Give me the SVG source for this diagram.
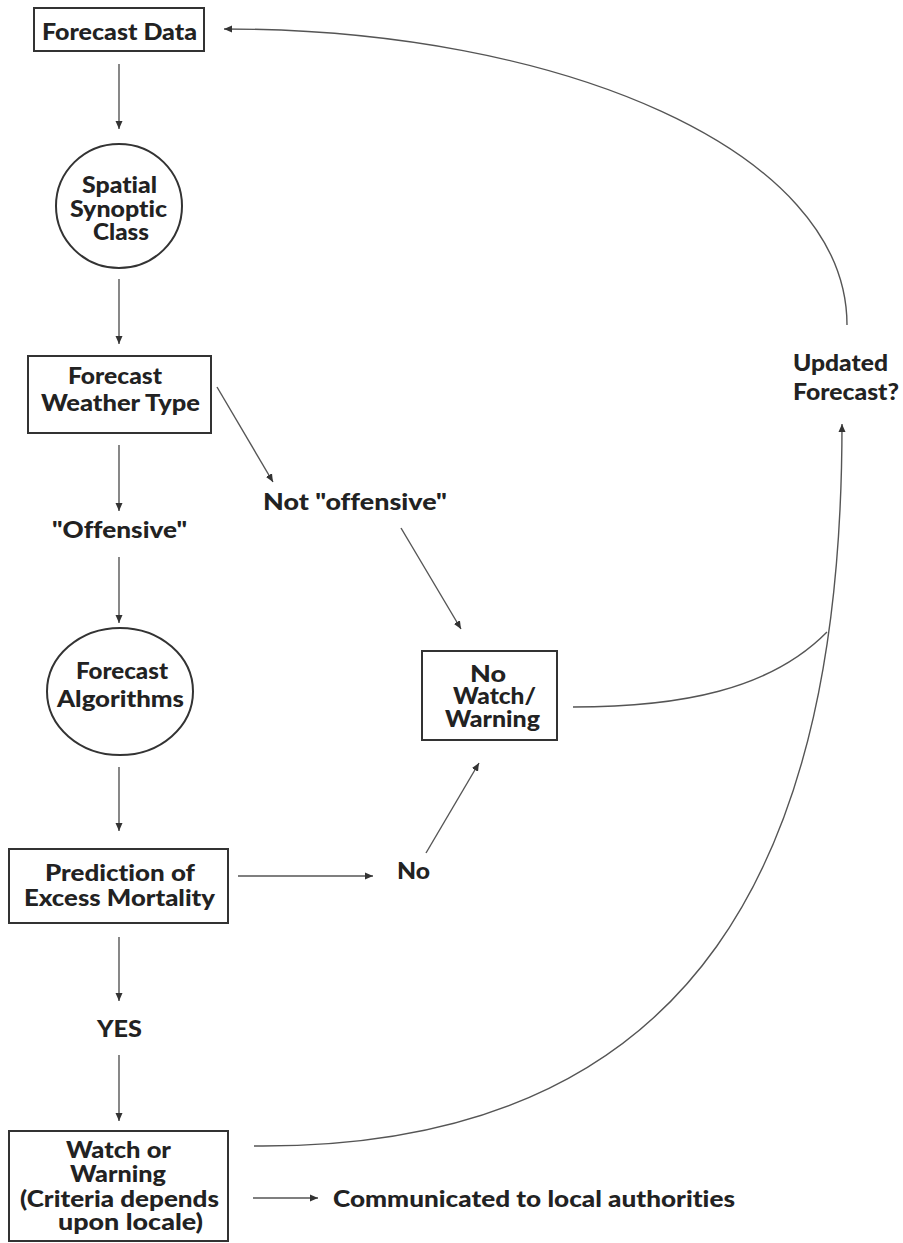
<svg xmlns="http://www.w3.org/2000/svg" width="903" height="1243" viewBox="0 0 903 1243">
<style>
.box{fill:#fff;stroke:#333;stroke-width:2}
.t{font-family:Lato,"Open Sans","Liberation Sans",sans-serif;font-weight:900;font-size:23px;fill:#222;text-anchor:middle;font-variant-ligatures:none}
.ts{text-anchor:start}
.c{fill:none;stroke:#555;stroke-width:1.4}
</style>
<defs>
<marker id="ah" markerUnits="userSpaceOnUse" markerWidth="9" markerHeight="8" refX="8" refY="4" orient="auto">
<path d="M0,0.5 L8,4 L0,7.5 z" fill="#333"/>
</marker>
</defs>
<rect width="903" height="1243" fill="#fff"/>
<g id="connectors">
<line class="c" x1="119" y1="64" x2="119" y2="129" marker-end="url(#ah)"/>
<line class="c" x1="119" y1="279" x2="119" y2="344" marker-end="url(#ah)"/>
<line class="c" x1="119" y1="445" x2="119" y2="511" marker-end="url(#ah)"/>
<line class="c" x1="119" y1="557" x2="119" y2="623" marker-end="url(#ah)"/>
<line class="c" x1="119" y1="767" x2="119" y2="831" marker-end="url(#ah)"/>
<line class="c" x1="119" y1="937" x2="119" y2="1001" marker-end="url(#ah)"/>
<line class="c" x1="119" y1="1055" x2="119" y2="1121" marker-end="url(#ah)"/>
<line class="c" x1="217" y1="387" x2="273" y2="482" marker-end="url(#ah)"/>
<line class="c" x1="401" y1="528" x2="461" y2="629" marker-end="url(#ah)"/>
<line class="c" x1="238" y1="876" x2="373" y2="876" marker-end="url(#ah)"/>
<line class="c" x1="426" y1="853" x2="479" y2="763" marker-end="url(#ah)"/>
<line class="c" x1="253" y1="1198" x2="318" y2="1198" marker-end="url(#ah)"/>
<path class="c" d="M573,707 C680,707 770,690 827,632"/>
<path class="c" d="M254,1146 C704,1150 842,850 842,424" marker-end="url(#ah)"/>
<path class="c" d="M847,325 C847,150 560,29 224,29" marker-end="url(#ah)"/>
</g>
<g id="forecast-data">
<rect class="box" x="34" y="8" width="170" height="43"/>
<text class="t" x="119.5" y="40" textLength="155" lengthAdjust="spacingAndGlyphs">Forecast Data</text>
</g>
<g id="spatial-synoptic-class">
<ellipse class="box" cx="119" cy="206" rx="63" ry="62"/>
<text class="t" x="119.5" y="193" textLength="75" lengthAdjust="spacingAndGlyphs">Spatial</text>
<text class="t" x="118.5" y="216.5" textLength="97" lengthAdjust="spacingAndGlyphs">Synoptic</text>
<text class="t" x="121" y="239.5" textLength="56" lengthAdjust="spacingAndGlyphs">Class</text>
</g>
<g id="forecast-weather-type">
<rect class="box" x="28" y="356" width="183" height="77"/>
<text class="t" x="115" y="384" textLength="94" lengthAdjust="spacingAndGlyphs">Forecast</text>
<text class="t" x="120.5" y="411" textLength="159" lengthAdjust="spacingAndGlyphs">Weather Type</text>
</g>
<g id="offensive">
<text class="t" x="119.5" y="538" textLength="135" lengthAdjust="spacingAndGlyphs">"Offensive"</text>
</g>
<g id="not-offensive">
<text class="t" x="355" y="510" textLength="184" lengthAdjust="spacingAndGlyphs">Not "offensive"</text>
</g>
<g id="forecast-algorithms">
<ellipse class="box" cx="120" cy="691.5" rx="73" ry="63.5"/>
<text class="t" x="122" y="679" textLength="92" lengthAdjust="spacingAndGlyphs">Forecast</text>
<text class="t" x="120.5" y="707" textLength="127" lengthAdjust="spacingAndGlyphs">Algorithms</text>
</g>
<g id="no-watch-warning">
<rect class="box" x="422" y="651" width="135" height="89"/>
<text class="t" x="488" y="682" textLength="36" lengthAdjust="spacingAndGlyphs">No</text>
<text class="t" x="494.5" y="704" textLength="83" lengthAdjust="spacingAndGlyphs">Watch/</text>
<text class="t" x="492.5" y="727" textLength="95" lengthAdjust="spacingAndGlyphs">Warning</text>
</g>
<g id="prediction">
<rect class="box" x="9" y="849" width="219" height="74"/>
<text class="t" x="120" y="881" textLength="150" lengthAdjust="spacingAndGlyphs">Prediction of</text>
<text class="t" x="119.5" y="906" textLength="191" lengthAdjust="spacingAndGlyphs">Excess Mortality</text>
</g>
<g id="no">
<text class="t" x="413.5" y="879" textLength="33" lengthAdjust="spacingAndGlyphs">No</text>
</g>
<g id="yes">
<text class="t" x="119.5" y="1037" textLength="45" lengthAdjust="spacingAndGlyphs">YES</text>
</g>
<g id="watch-or-warning">
<rect class="box" x="9" y="1131" width="219" height="110"/>
<text class="t" x="118.5" y="1158" textLength="105" lengthAdjust="spacingAndGlyphs">Watch or</text>
<text class="t" x="118" y="1182" textLength="96" lengthAdjust="spacingAndGlyphs">Warning</text>
<text class="t" x="119.5" y="1207" textLength="199" lengthAdjust="spacingAndGlyphs">(Criteria depends</text>
<text class="t" x="130.5" y="1230" textLength="145" lengthAdjust="spacingAndGlyphs">upon locale)</text>
</g>
<g id="communicated">
<text class="t ts" x="333" y="1207" textLength="402" lengthAdjust="spacingAndGlyphs">Communicated to local authorities</text>
</g>
<g id="updated-forecast">
<text class="t ts" x="793" y="371" textLength="95" lengthAdjust="spacingAndGlyphs">Updated</text>
<text class="t ts" x="793" y="400" textLength="106" lengthAdjust="spacingAndGlyphs">Forecast?</text>
</g>
</svg>
